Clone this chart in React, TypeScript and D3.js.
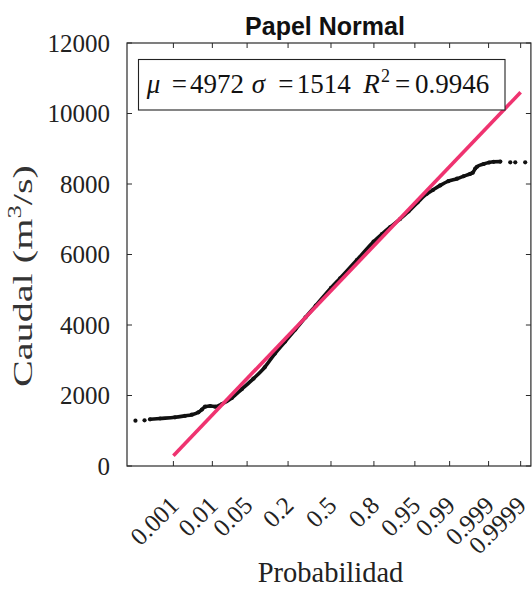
import React from 'react';
import * as d3 from 'd3';

// ---------- data ----------
const chartTitle = 'Papel Normal';
const xAxisLabel = 'Probabilidad';

const probTicks = [0.001, 0.01, 0.05, 0.2, 0.5, 0.8, 0.95, 0.99, 0.999, 0.9999];
const probTickLabels = ['0.001', '0.01', '0.05', '0.2', '0.5', '0.8', '0.95', '0.99', '0.999', '0.9999'];
const flowTicks = [0, 2000, 4000, 6000, 8000, 10000, 12000];

// empirical non-exceedance probability (plotting position) and flow (m3/s)
const obsProb = [
  0.000063, 0.000128, 0.000194, 0.000404, 0.00111, 0.0021, 0.00317, 0.00466, 0.0057, 0.00676,
  0.0089, 0.0116, 0.0162, 0.0259, 0.0401, 0.0643, 0.0968, 0.1357, 0.1841, 0.242,
  0.3085, 0.3821, 0.5, 0.5714, 0.6943, 0.7979, 0.8413, 0.8774, 0.9115, 0.9357,
  0.9554, 0.9699, 0.9772, 0.9839, 0.9893, 0.99326, 0.99534, 0.99685, 0.99728, 0.99767,
  0.99791, 0.99862, 0.99903, 0.99929, 0.99955, 0.999781, 0.999849, 0.99993,
];
const obsFlow = [
  1285, 1296, 1325, 1348, 1382, 1424, 1455, 1523, 1603, 1682,
  1702, 1682, 1759, 1930, 2180, 2480, 2800, 3190, 3530, 3870,
  4215, 4548, 5052, 5325, 5844, 6363, 6580, 6780, 7000, 7220,
  7480, 7720, 7830, 7960, 8080, 8150, 8220, 8290, 8320, 8440,
  8490, 8567, 8610, 8630, 8635, 8615, 8615, 8615,
];
const isolatedLow = 2; // first points drawn as separate dots
const isolatedHigh = 3; // last points drawn as separate dots

// fitted normal distribution
const fitMu = 4972;
const fitSigma = 1514;
const fitR2 = 0.9946;
const fitProbRange = [0.001, 0.9999];

// ---------- helpers ----------
function probit(p: number): number {
  const a = [-3.969683028665376e1, 2.209460984245205e2, -2.759285104469687e2, 1.38357751867269e2, -3.066479806614716e1, 2.506628277459239];
  const b = [-5.447609879822406e1, 1.615858368580409e2, -1.556989798598866e2, 6.680131188771972e1, -1.328068155288572e1];
  const c = [-7.784894002430293e-3, -3.223964580411365e-1, -2.400758277161838, -2.549732539343734, 4.374664141464968, 2.938163982698783];
  const d = [7.784695709041462e-3, 3.224671290700398e-1, 2.445134137142996, 3.754408661907416];
  const plow = 0.02425;
  if (p < plow) {
    const q = Math.sqrt(-2 * Math.log(p));
    return (((((c[0] * q + c[1]) * q + c[2]) * q + c[3]) * q + c[4]) * q + c[5]) / ((((d[0] * q + d[1]) * q + d[2]) * q + d[3]) * q + 1);
  }
  if (p <= 1 - plow) {
    const q = p - 0.5;
    const r = q * q;
    return ((((((a[0] * r + a[1]) * r + a[2]) * r + a[3]) * r + a[4]) * r + a[5]) * q) / (((((b[0] * r + b[1]) * r + b[2]) * r + b[3]) * r + b[4]) * r + 1);
  }
  const q = Math.sqrt(-2 * Math.log(1 - p));
  return -(((((c[0] * q + c[1]) * q + c[2]) * q + c[3]) * q + c[4]) * q + c[5]) / ((((d[0] * q + d[1]) * q + d[2]) * q + d[3]) * q + 1);
}

const W = 532;
const H = 589;
const L = 127;
const R = 530.9;
const T = 43;
const B = 466;

const xZ = d3.scaleLinear().domain([-4, 3.92]).range([L, R]);
const xP = (p: number) => xZ(probit(p));
const y = d3.scaleLinear().domain([0, 12000]).range([B, T]);

const serif = "'Liberation Serif', 'Times New Roman', serif";
const sans = "'Liberation Sans', Arial, sans-serif";

export default function App() {
  const pts = obsProb.map((p, i) => ({ p, q: obsFlow[i] }));
  const mid = pts.slice(isolatedLow, pts.length - isolatedHigh);
  const line = d3
    .line<{ p: number; q: number }>()
    .x((d) => xP(d.p))
    .y((d) => y(d.q))
    .curve(d3.curveMonotoneX);
  const fitPts = fitProbRange.map((p) => ({ p, q: fitMu + fitSigma * probit(p) }));
  const axisColor = '#2a2a2a';
  const textColor = '#222';
  const tick = 5;

  return (
    <svg width={W} height={H} style={{ position: 'absolute', left: 0, top: 0, background: '#fff' }}>
      <rect x={0} y={0} width={W} height={H} fill="#fff" />
      {/* title */}
      <text x={325} y={34.5} textAnchor="middle" fontFamily={sans} fontWeight="bold" fontSize={25} fill="#111">
        {chartTitle}
      </text>

      {/* axes box */}
      <rect x={L} y={T} width={R - L} height={B - T} fill="none" stroke={axisColor} strokeWidth={1.2} />

      {/* y ticks */}
      {flowTicks.map((v) => (
        <g key={'y' + v}>
          <line x1={L} x2={L + tick} y1={y(v)} y2={y(v)} stroke={axisColor} strokeWidth={1} />
          <line x1={R} x2={R - tick} y1={y(v)} y2={y(v)} stroke={axisColor} strokeWidth={1} />
          <text x={110} y={y(v) + 8.5} textAnchor="end" fontFamily={serif} fontSize={25} fill={textColor}>
            {v}
          </text>
        </g>
      ))}

      {/* x ticks */}
      {probTicks.map((p, i) => (
        <g key={'x' + p}>
          <line x1={xP(p)} x2={xP(p)} y1={B} y2={B - tick} stroke={axisColor} strokeWidth={1} />
          <line x1={xP(p)} x2={xP(p)} y1={T} y2={T + tick} stroke={axisColor} strokeWidth={1} />
          <text
            transform={`translate(${xP(p) + 7},${507}) rotate(-45)`}
            textAnchor="end"
            fontFamily={serif}
            fontSize={25}
            fill={textColor}
          >
            {probTickLabels[i]}
          </text>
        </g>
      ))}

      {/* axis labels */}
      <text x={330.5} y={582} textAnchor="middle" fontFamily={serif} fontSize={28.5} fill={textColor}>
        {xAxisLabel}
      </text>
      <text
        transform="translate(32,276) rotate(-90)"
        textAnchor="middle"
        fontFamily={serif}
        fontSize={27}
        fill="#333"
        textLength={222}
        lengthAdjust="spacingAndGlyphs"
      >
        Caudal (m<tspan fontSize={18} dy={-11}>3</tspan>
        <tspan dy={11}>/s)</tspan>
      </text>

      {/* observed data */}
      <path d={line(mid) || ''} fill="none" stroke="#111" strokeWidth={3.6} strokeLinejoin="round" strokeLinecap="round" />
      {pts.map((d, i) => (
        <circle key={'c' + i} cx={xP(d.p)} cy={y(d.q)} r={2.1} fill="#111" />
      ))}

      {/* fitted line */}
      <line
        x1={xP(fitPts[0].p)}
        y1={y(fitPts[0].q)}
        x2={xP(fitPts[1].p)}
        y2={y(fitPts[1].q)}
        stroke="#ef3370"
        strokeWidth={3.6}
      />

      {/* legend */}
      <rect x={138.5} y={59.5} width={366.5} height={50.5} fill="#fff" stroke="#222" strokeWidth={1.1} />
      <text y={93.3} fontFamily={serif} fontSize={27} fill="#111">
        <tspan x={146.7} fontStyle="italic">μ</tspan>
        <tspan x={171.7}>=</tspan>
        <tspan x={190}>{fitMu}</tspan>
        <tspan x={251.7} fontStyle="italic">σ</tspan>
        <tspan x={278.3}>=</tspan>
        <tspan x={296.7}>{fitSigma}</tspan>
        <tspan x={363.3} fontStyle="italic">R</tspan>
        <tspan x={381} dy={-11} fontSize={18}>2</tspan>
        <tspan x={395} dy={11}>=</tspan>
        <tspan x={415}>{fitR2}</tspan>
      </text>
    </svg>
  );
}
